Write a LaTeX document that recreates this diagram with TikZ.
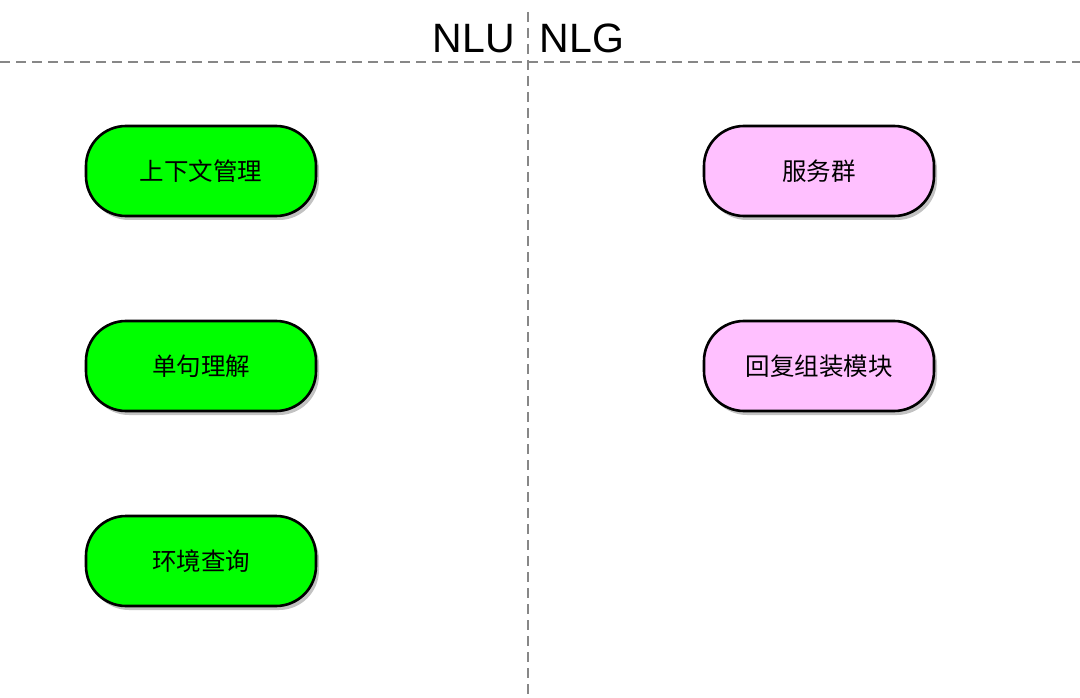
\documentclass[tikz,border=0pt]{standalone}
\usepackage{fontspec}
\setmainfont{Liberation Sans}
\newfontfamily\cjk{Noto Sans CJK SC}
\usetikzlibrary{shadows}
\definecolor{nluGreen}{RGB}{0,255,0}
\definecolor{nlgPink}{RGB}{255,192,255}
\definecolor{sepGray}{RGB}{135,135,135}
\begin{document}
\begin{tikzpicture}[x=1pt,y=-1pt,
  modbox/.style={draw=black, line width=2.6pt, minimum width=230pt, minimum height=90pt,
    rounded corners=40pt, font=\cjk\fontsize{24.5}{24.5}\selectfont, inner sep=0pt,
    drop shadow={shadow xshift=3pt, shadow yshift=-4pt, opacity=0.4, fill=black!60}},
  greenbox/.style={modbox, fill=nluGreen},
  pinkbox/.style={modbox, fill=nlgPink},
  sepline/.style={draw=sepGray, line width=2.2pt, dash pattern=on 10pt off 6pt},
  headtext/.style={font=\fontsize{41}{41}\selectfont, text=black, inner sep=0pt, anchor=base}
]
\useasboundingbox (0,0) rectangle (1080,698);
\coordinate (hl) at (0,62);
\coordinate (hr) at (1080,62);
\coordinate (vt) at (528,12);
\coordinate (vb) at (528,698);
\draw[sepline] (hl) -- (hr);
\draw[sepline] (vt) -- (vb);
\node[headtext] (nlu) at (474,53) {NLU};
\node[headtext] (nlg) at (582,53) {NLG};
\node[greenbox] (ctx) at (201,171) {上下文管理};
\node[greenbox] (single) at (201,366) {单句理解};
\node[greenbox] (env) at (201,561) {环境查询};
\node[pinkbox] (svc) at (819,171) {服务群};
\node[pinkbox] (reply) at (819,366) {回复组装模块};
\end{tikzpicture}
\end{document}
